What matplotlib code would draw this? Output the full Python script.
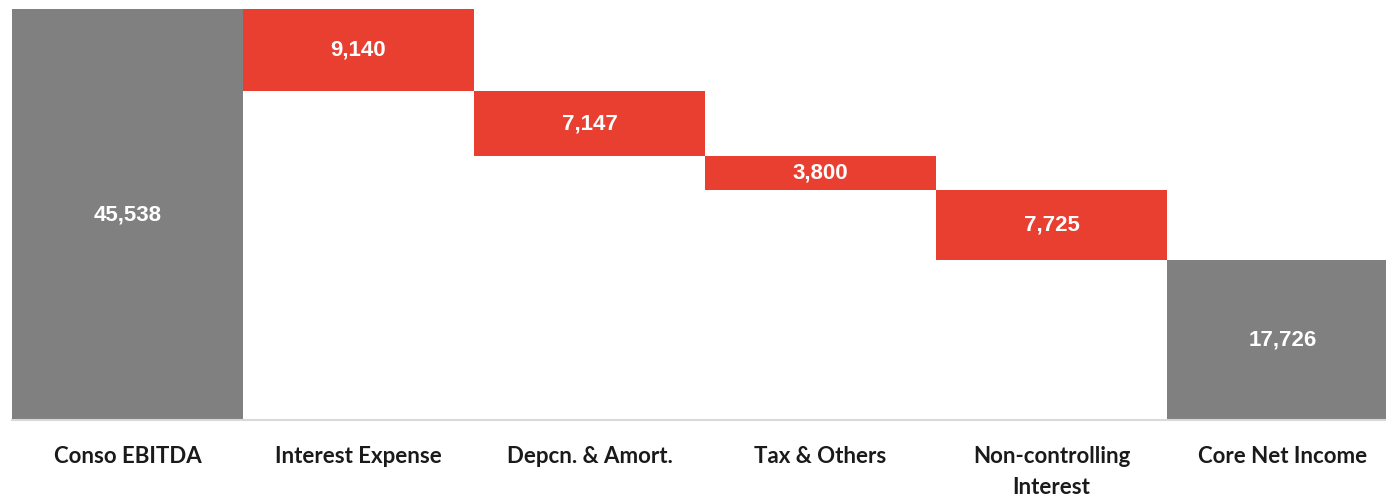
import matplotlib
matplotlib.use("Agg")
import matplotlib.pyplot as plt

categories = ["Conso EBITDA", "Interest Expense", "Depcn. & Amort.", "Tax & Others",
              "Non-controlling\nInterest", "Core Net Income"]
values = [45538, -9140, -7147, -3800, -7725, 17726]
is_total = [True, False, False, False, False, True]
value_labels = ["45,538", "9,140", "7,147", "3,800", "7,725", "17,726"]

GRAY = "#808080"
RED = "#E83F31"

W, H = 1386, 499
fig = plt.figure(figsize=(W / 100, H / 100), dpi=100)
left_px, right_px = 12, 12 + 6 * 231
bottom_px, top_px = 420, 9
ax = fig.add_axes([left_px / W, 1 - bottom_px / H, (right_px - left_px) / W, (bottom_px - top_px) / H])

running = 0
for i, (v, tot) in enumerate(zip(values, is_total)):
    if tot:
        base, height = 0, v
        running = v
    else:
        base = running + v
        height = -v
        running = running + v
    ax.bar(i, height, bottom=base, width=1.0, color=GRAY if tot else RED, linewidth=0)
    ax.text(i, base + height / 2, value_labels[i], ha="center", va="center",
            color="white", fontsize=16, fontweight="bold", family="Liberation Sans")

ax.set_xlim(-0.5, len(values) - 0.5)
ax.set_ylim(0, 45538)
ax.set_yticks([])
ax.set_xticks(range(len(categories)))
ax.set_xticklabels(categories, fontsize=16, fontweight="bold", family="Lato", color="#1a1a1a",
                   linespacing=1.55)
ax.tick_params(axis="x", length=0, pad=19)
for s in ["top", "left", "right"]:
    ax.spines[s].set_visible(False)
ax.spines["bottom"].set_color("#d9d9d9")
ax.spines["bottom"].set_linewidth(1.5)

fig.savefig("out.png", dpi=100)
